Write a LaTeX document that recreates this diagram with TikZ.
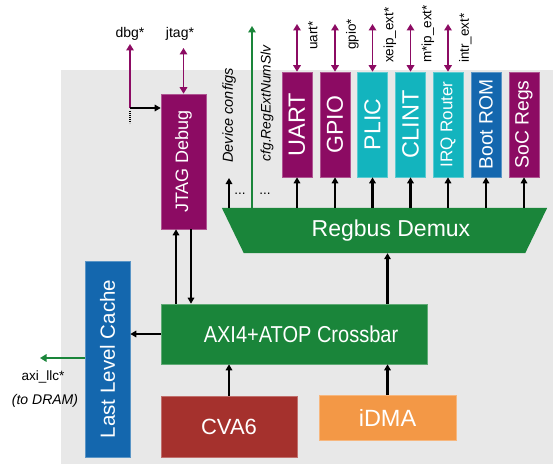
\documentclass[tikz,border=0pt]{standalone}
\usepackage{fontspec}
\usepackage{graphicx}
\setmainfont{Liberation Sans}
\usetikzlibrary{arrows.meta}
\definecolor{cpurple}{HTML}{8C0B63}
\definecolor{cteal}{HTML}{13B4BE}
\definecolor{cblue}{HTML}{1467AE}
\definecolor{cgreen}{HTML}{1A853A}
\definecolor{cred}{HTML}{A5312D}
\definecolor{corange}{HTML}{F39846}
\definecolor{cgray}{HTML}{E8E8E8}
\begin{document}
\begin{tikzpicture}[x=1pt,y=-1pt,
  box/.style={inner sep=0pt, text=white, fill=#1, draw=#1!70!white, line width=0.6pt},
  pbox/.style={box=#1, minimum width=30pt, minimum height=105pt},
  fs/.style={font=\fontsize{#1}{#1}\selectfont},
  ifs/.style={font=\fontsize{#1}{#1}\selectfont\itshape},
  arr/.style={line width=2.2pt, -{Triangle[length=6pt,width=6.5pt]}},
  parr/.style={cpurple, line width=1.9pt, {Triangle[length=6.5pt,width=7.5pt]}-{Triangle[length=6.5pt,width=7.5pt]}},
  porr/.style={cpurple, line width=1.9pt, -{Triangle[length=6.5pt,width=7.5pt]}},
  garr/.style={cgreen, line width=1.9pt, -{Triangle[length=6.5pt,width=7.5pt]}},
  lbl/.style={inner sep=0pt, fs=13.5},
  rlbl/.style={lbl, rotate=90, anchor=north west}
]
\useasboundingbox (0,0) rectangle (553,465);
\fill[cgray] (61,70) rectangle (553,464);

% boxes
\node[box=cpurple, minimum width=45pt, minimum height=135pt, fs=18] (jtag) at (183.5,161.5) {\rotatebox{90}{JTAG Debug}};
\node[box=cblue, minimum width=45pt, minimum height=196pt, fs=20.5] (llc) at (107.5,359) {\rotatebox{90}{Last Level Cache}};
\node[box=cgreen, minimum width=266pt, minimum height=60pt, fs=23] (xbar) at (294.5,334) {\hspace{13pt}\scalebox{0.87}[1]{AXI4+ATOP Crossbar}};
\node[box=cred, minimum width=136pt, minimum height=61pt, fs=22] (cva6) at (229,426.5) {CVA6};
\node[box=corange, minimum width=137pt, minimum height=45pt, fs=23.5] (idma) at (387.5,417.5) {iDMA};

\node[pbox=cpurple, fs=23.5] (uart) at (297,124.5) {\rotatebox{90}{UART}};
\node[pbox=cpurple, fs=23] (gpio) at (335,124.5) {\rotatebox{90}{GPIO}};
\node[pbox=cteal, fs=23] (plic) at (372.5,124.5) {\rotatebox{90}{PLIC}};
\node[pbox=cteal, fs=23.5] (clint) at (410.5,124.5) {\rotatebox{90}{CLINT}};
\node[pbox=cteal, fs=17] (irq) at (448,124.5) {\rotatebox{90}{IRQ Router}};
\node[pbox=cblue, fs=19.3] (brom) at (486,124.5) {\rotatebox{90}{Boot ROM}};
\node[pbox=cpurple, fs=19.3] (socr) at (524,124.5) {\rotatebox{90}{SoC Regs}};

% demux
\node[minimum width=325pt, minimum height=45pt, inner sep=0pt] (demux) at (384.5,230.5) {};
\fill[cgreen] (demux.north west) -- (demux.north east) -- ([xshift=-22pt]demux.south east) -- ([xshift=22pt]demux.south west) -- cycle;
\node[inner sep=0pt, text=white, fs=23] (demuxlbl) at ([xshift=6.5pt]demux.center) {Regbus Demux};

% demux -> peripherals
\foreach \p in {uart,gpio,plic,clint,irq,brom,socr}
  \draw[arr] (demux.north -| \p) -- (\p.south);

% top peripheral IO
\foreach \p/\t/\y in {uart/uart*/50, gpio/gpio*/50, plic/xeip\_ext*/63, clint/m*ip\_ext*/63, irq/intr\_ext*/63}{
  \coordinate (\p top) at (\p.north |- 0,24);
  \draw[parr] (\p top) -- (\p.north);
  \node[rlbl] (\p lbl) at ([xshift=11pt]\p.north |- 0,\y) {\t};
}

% device configs / cfg
\coordinate (devtop) at (229,178);
\draw[arr] (devtop |- demux.north) -- (devtop);
\node[lbl, rotate=90, ifs=14.5] (devlbl) at (229,115.5) {Device configs};
\coordinate (cfgtop) at (252,26);
\draw[garr] (cfgtop |- demux.north) -- (cfgtop);
\node[lbl, rotate=90, ifs=13.8] (cfglbl) at (267,103.5) {cfg.RegExtNumSlv};
\node[lbl] (dots1) at (240,194) {...};
\node[lbl] (dots2) at (265,194) {...};

% jtag side
\coordinate (dbgb) at (130,108);
\coordinate (dbgt) at (130,44);
\draw[porr] (dbgb) -- (dbgt);
\draw[arr] (dbgb) -- (jtag.west |- dbgb);
\draw[line width=1.6pt, dash pattern=on 0.8pt off 1.2pt] (130,111) -- (130,123);
\node[lbl, fs=14] (dbglbl) at (130,34) {dbg*};
\coordinate (jtagt) at (183.5,48);
\draw[parr] (jtagt) -- (jtag.north);
\node[lbl, fs=14] (jtaglbl) at (180,34) {jtag*};

% jtag <-> crossbar
\draw[arr] ([xshift=-7.5pt]jtag.south |- xbar.north) -- ([xshift=-7.5pt]jtag.south);
\draw[arr] ([xshift=7.5pt]jtag.south) -- ([xshift=7.5pt]jtag.south |- xbar.north);

% crossbar connections
\draw[arr] (xbar.west) -- (llc.east |- xbar.west);
\draw[arr] (cva6.north) -- (cva6.north |- xbar.south);
\draw[arr] (idma.north) -- (idma.north |- xbar.south);
\draw[arr] (idma.north |- xbar.north) -- (idma.north |- demux.south);

% llc -> DRAM
\coordinate (axiend) at (40,358);
\draw[garr] (llc.west |- axiend) -- (axiend);
\node[lbl] (axilbl) at (43,377) {axi\_llc*};
\node[lbl, ifs=14] (dramlbl) at (45,401) {(to DRAM)};
\end{tikzpicture}
\end{document}
